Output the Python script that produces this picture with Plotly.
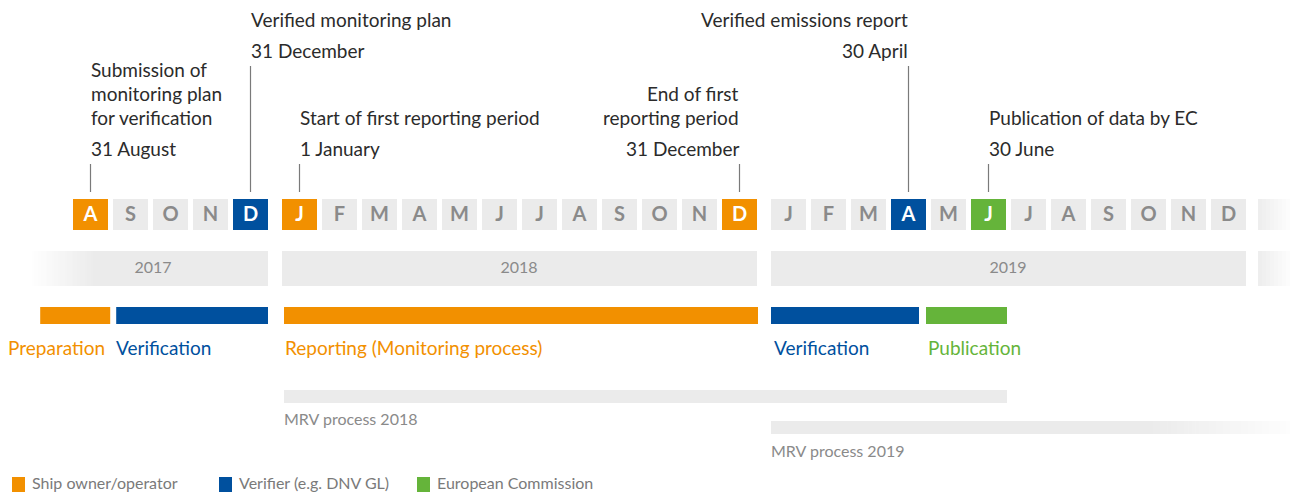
import plotly.graph_objects as go

# ---------------- data ----------------
month_letters = ["J", "F", "M", "A", "M", "J", "J", "A", "S", "O", "N", "D"]
years = [2017, 2018, 2019]
first_month = {2017: 8, 2018: 1, 2019: 1}

# highlighted months: (year, month) -> role
highlight_year = [2017, 2017, 2018, 2018, 2019, 2019]
highlight_month = [8, 12, 1, 12, 4, 6]
highlight_role = ["owner", "verifier", "owner", "owner", "verifier", "ec"]

# milestones
ms_titles = [
    ["Submission of", "monitoring plan", "for verification"],
    ["Verified monitoring plan"],
    ["Start of first reporting period"],
    ["End of first", "reporting period"],
    ["Verified emissions report"],
    ["Publication of data by EC"],
]
ms_dates = ["31 August", "31 December", "1 January", "31 December", "30 April", "30 June"]
ms_year = [2017, 2017, 2018, 2018, 2019, 2019]
ms_month = [8, 12, 1, 12, 4, 6]
ms_side = ["left", "left", "left", "right", "right", "left"]
ms_tier = ["low", "high", "low", "low", "high", "low"]

# phases (year, month position) in month units
phase_names = ["Preparation", "Verification", "Reporting (Monitoring process)", "Verification", "Publication"]
phase_role = ["owner", "verifier", "owner", "verifier", "ec"]
phase_start = [(2017, 7.18), (2017, 9.08), (2018, 1.05), (2019, 1.0), (2019, 4.875)]
phase_end = [(2017, 8.93), (2017, 12.875), (2018, 12.9), (2019, 4.7), (2019, 6.9)]
phase_label_x = [(2017, 6.33), (2017, 9.02), (2018, 1.03), (2019, 1.03), (2019, 4.875)]

mrv_names = ["MRV process 2018", "MRV process 2019"]
mrv_start = [(2018, 1.05), (2019, 1.0)]
mrv_end = [(2019, 6.9), (2020, 2.0)]

legend_roles = ["owner", "verifier", "ec"]
legend_labels = ["Ship owner/operator", "Verifier (e.g. DNV GL)", "European Commission"]

# ---------------- styles ----------------
COL = {"owner": "#F29000", "verifier": "#00509E", "ec": "#65B43A"}
GREY = "#EBEBEB"
TXT = "#2b2b2b"
MUTED = "#8a8a8a"
FONT = "Lato"

X_JAN2017 = -207.0
SLOT = 40.0
YEAR_W = 489.0
BOX = 35.0


def xm(year, month):
    """left edge (axis units) of a month position"""
    return X_JAN2017 + (year - 2017) * YEAR_W + (month - 1) * SLOT


def hex2rgb(h):
    h = h.lstrip("#")
    return tuple(int(h[i:i + 2], 16) for i in (0, 2, 4))


def mix(c1, c2, t):
    a, b = hex2rgb(c1), hex2rgb(c2)
    return "rgb(%d,%d,%d)" % tuple(round(a[i] + (b[i] - a[i]) * t) for i in range(3))


shapes = []
annotations = []


def rect(x0, x1, y0, y1, color):
    shapes.append(dict(type="rect", xref="x", yref="y", x0=x0, x1=x1, y0=y0, y1=y1,
                       fillcolor=color, line=dict(width=0), layer="below"))


def grad_rect(x0, x1, y0, y1, c0, c1, n=40):
    w = (x1 - x0) / n
    for i in range(n):
        t = (i + 0.5) / n
        rect(x0 + i * w, x0 + (i + 1) * w + 0.6, y0, y1, mix(c0, c1, t))


BOX_Y0, BOX_Y1 = 199, 230
YEAR_Y0, YEAR_Y1 = 251, 286
PH_Y0, PH_Y1 = 307, 324
PH_LABEL_Y = 347
MRV_Y = [(390, 403), (421, 434)]
MRV_LABEL_Y = [418, 450]

fig = go.Figure()

# month boxes
hl = {(y, m): r for y, m, r in zip(highlight_year, highlight_month, highlight_role)}
mx, my, mt, mc = [], [], [], []
for y in years:
    for m in range(first_month[y], 13):
        x0 = xm(y, m)
        role = hl.get((y, m))
        rect(x0, x0 + BOX, BOX_Y0, BOX_Y1, COL[role] if role else GREY)
        mx.append(x0 + BOX / 2)
        my.append((BOX_Y0 + BOX_Y1) / 2 + 1)
        mt.append(month_letters[m - 1])
        mc.append("white" if role else MUTED)
# faded next-year stub
x_next = xm(2020, 1) - 2
grad_rect(x_next, 1290, BOX_Y0, BOX_Y1, "#EDEDED", "#FDFDFD", 16)

fig.add_trace(go.Scatter(x=mx, y=my, mode="text", text=mt,
                         textfont=dict(family=FONT, size=20, color=mc, weight="bold"),
                         hoverinfo="skip"))

# year bars
yx, yy, yt = [], [], []
for y in years:
    x0 = xm(y, first_month[y])
    x1 = xm(y, 12) + BOX
    if y == 2017:
        grad_rect(30, 95, YEAR_Y0, YEAR_Y1, "#FFFFFF", GREY, 30)
        rect(94.5, x1, YEAR_Y0, YEAR_Y1, GREY)
        yx.append(153)
    else:
        rect(x0, x1, YEAR_Y0, YEAR_Y1, GREY)
        yx.append((x0 + x1) / 2 - 0.5)
    yy.append((YEAR_Y0 + YEAR_Y1) / 2)
    yt.append(str(y))
grad_rect(x_next, 1290, YEAR_Y0, YEAR_Y1, "#EDEDED", "#FDFDFD", 16)
fig.add_trace(go.Scatter(x=yx, y=yy, mode="text", text=yt,
                         textfont=dict(family=FONT, size=16, color=MUTED), hoverinfo="skip"))

# phases
for name, role, s, e, lx in zip(phase_names, phase_role, phase_start, phase_end, phase_label_x):
    rect(xm(*s), xm(*e), PH_Y0, PH_Y1, COL[role])
    annotations.append(dict(x=xm(*lx), y=PH_LABEL_Y, xref="x", yref="y", text=name,
                            showarrow=False, xanchor="left", yanchor="middle",
                            font=dict(family=FONT, size=19, color=COL[role])))

# MRV process bars
for i, (name, s, e) in enumerate(zip(mrv_names, mrv_start, mrv_end)):
    x0, x1 = xm(*s), min(xm(*e), 1290)
    y0, y1 = MRV_Y[i]
    if i == 1:
        rect(x0, 1150, y0, y1, GREY)
        grad_rect(1149.5, 1290, y0, y1, GREY, "#FDFDFD", 40)
    else:
        rect(x0, x1, y0, y1, GREY)
    annotations.append(dict(x=x0 - 2, y=MRV_LABEL_Y[i], xref="x", yref="y", text=name,
                            showarrow=False, xanchor="left", yanchor="middle",
                            font=dict(family=FONT, size=16, color=MUTED)))

# milestones
for titles, date, y, m, side, tier in zip(ms_titles, ms_dates, ms_year, ms_month, ms_side, ms_tier):
    xc = xm(y, m) + BOX / 2
    date_y = 148 if tier == "low" else 50
    shapes.append(dict(type="line", xref="x", yref="y", x0=xc, x1=xc, y0=date_y + 16, y1=192,
                       line=dict(color="#7a7a7a", width=1.2)))
    anchor = "left" if side == "left" else "right"
    tx = xc - 2 if side == "left" else xc + 1
    annotations.append(dict(x=tx, y=date_y, xref="x", yref="y", text=date, showarrow=False,
                            xanchor=anchor, yanchor="middle", font=dict(family=FONT, size=19, color=TXT)))
    for k, line in enumerate(reversed(titles)):
        annotations.append(dict(x=tx, y=date_y - 31 - 24 * k, xref="x", yref="y", text=line,
                                showarrow=False, xanchor=anchor, yanchor="middle",
                                font=dict(family=FONT, size=19, color=TXT)))

# legend (bottom)
leg_x = [12, 219, 417]
for lx, role, lab in zip(leg_x, legend_roles, legend_labels):
    rect(lx, lx + 13, 477, 495, COL[role])
    annotations.append(dict(x=lx + 18, y=482, xref="x", yref="y", text=lab, showarrow=False,
                            xanchor="left", yanchor="middle",
                            font=dict(family=FONT, size=16, color="#7a7a7a")))

fig.update_layout(
    width=1290, height=492,
    margin=dict(l=0, r=0, t=0, b=0),
    paper_bgcolor="white", plot_bgcolor="white",
    showlegend=False,
    xaxis=dict(range=[0, 1290], visible=False, fixedrange=True),
    yaxis=dict(range=[492, 0], visible=False, fixedrange=True),
    shapes=shapes, annotations=annotations,
)

fig.write_html("out.html", config={"displayModeBar": False},
               post_script="document.body.style.margin='0';document.body.style.overflow='hidden';")
